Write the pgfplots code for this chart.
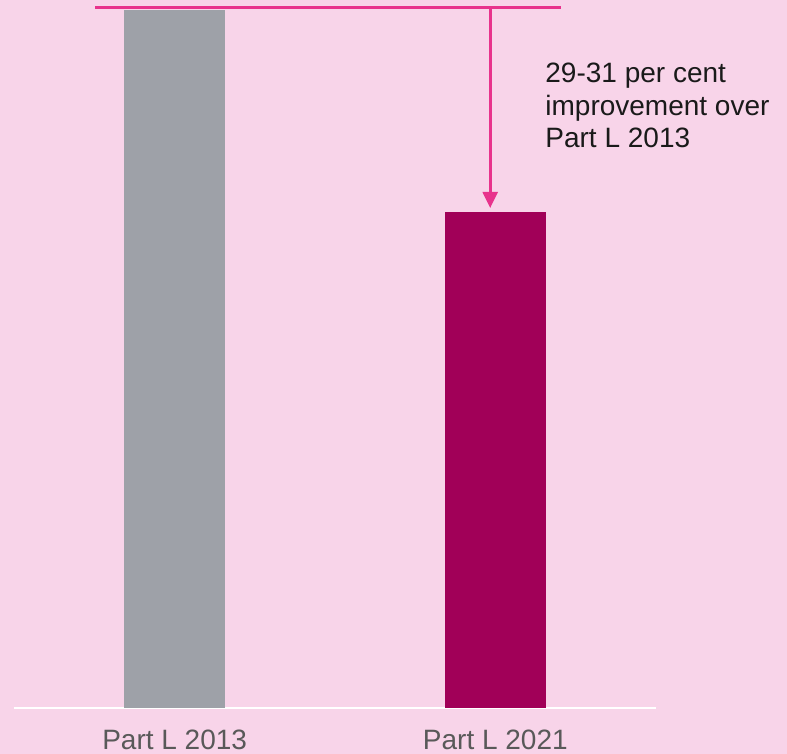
\documentclass[border=0pt]{standalone}
\usepackage{fontspec}
\setmainfont{Liberation Sans}
\usepackage{pgfplots}
\pgfplotsset{compat=1.18}
\usetikzlibrary{arrows.meta}
\definecolor{bg}{HTML}{F8D4E9}
\definecolor{bargrey}{HTML}{9EA1A8}
\definecolor{barmag}{HTML}{A10058}
\definecolor{annpink}{HTML}{E8328C}
\definecolor{labgrey}{HTML}{595959}
\definecolor{anntext}{HTML}{1A1A1A}
\begin{document}
\begin{tikzpicture}
\fill[bg] (0,0) rectangle (393.5pt,377pt);
\begin{axis}[
  at={(7.15pt,22.85pt)}, anchor=south west,
  scale only axis, width=320.7pt, height=354.15pt,
  xmin=-0.5, xmax=1.5, ymin=0, ymax=101.43,
  axis x line=bottom, axis y line=none,
  x axis line style={-, white, line width=0.85pt},
  xtick={0,1}, xticklabels={Part L 2013, Part L 2021},
  major tick length=0pt,
  xticklabel style={anchor=base, yshift=-20.85pt, text=labgrey,
    font=\fontsize{14}{16.5}\selectfont, inner sep=0pt},
  ytick=\empty,
  ybar, bar width=50.5pt, bar shift=0pt,
  clip=false,
]
\addplot[fill=bargrey, draw=none] coordinates {(0,100)};
\addplot[fill=barmag, draw=none] coordinates {(1,71)};
\draw[annpink, line width=1.35pt] (axis cs:-0.248,100.36) -- (axis cs:1.205,100.36);
\draw[annpink, line width=1.3pt, -{Triangle[length=8pt,width=7.5pt]}] (axis cs:0.984,100.36) -- (axis cs:0.984,71.65);
\end{axis}
\begin{scope}[every node/.style={anchor=base west, inner sep=0pt, text=anntext, font=\fontsize{14}{16.5}\selectfont}]
\node at (272.5pt,335.5pt) {29-31 per cent};
\node at (272.5pt,319.25pt) {improvement over};
\node at (272.5pt,303pt) {Part L 2013};
\end{scope}
\end{tikzpicture}
\end{document}
